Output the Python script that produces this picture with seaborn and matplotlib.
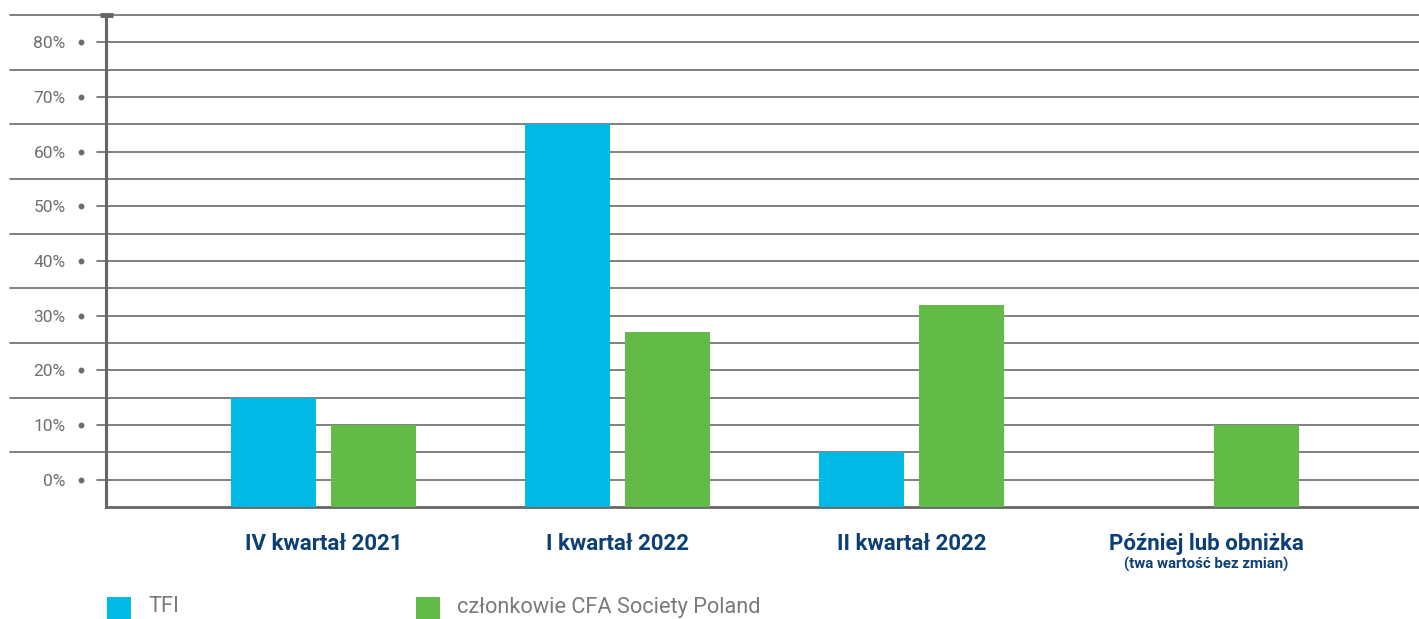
import matplotlib
matplotlib.use("Agg")
import matplotlib.pyplot as plt
import matplotlib.transforms as mtransforms
from matplotlib.patches import Rectangle
import seaborn as sns
import pandas as pd

# ---- data ----
categories = ["IV kwartał 2021", "I kwartał 2022", "II kwartał 2022", "Później lub obniżka"]
category_note = "(twa wartość bez zmian)"
series_names = ["TFI", "członkowie CFA Society Poland"]
tfi_values = [20, 70, 10, 0]
cfa_values = [15, 32, 37, 15]
tick_values = [5, 15, 25, 35, 45, 55, 65, 75, 85]
tick_labels = ["0%", "10%", "20%", "30%", "40%", "50%", "60%", "70%", "80%"]
half_lines = [10, 20, 30, 40, 50, 60, 70, 80, 90]

colors = ["#00B9E4", "#62BB46"]
grid_col = "#6b6b6b"
text_gray = "#6d6e70"
navy = "#0c3f74"

df = pd.DataFrame({
    "category": categories * 2,
    "series": [series_names[0]] * 4 + [series_names[1]] * 4,
    "value": tfi_values + cfa_values,
})

sns.set_theme(style="white")
plt.rcParams["font.family"] = ["Roboto", "DejaVu Sans"]

W, H = 1419, 619
fig = plt.figure(figsize=(W / 100, H / 100), dpi=100)
ax = fig.add_axes([106 / W, 112 / H, (W - 106) / W, (507 - 15) / H])

sns.barplot(data=df, x="category", y="value", hue="series", palette=colors,
            width=0.68, gap=0.15, saturation=1, legend=False, ax=ax, zorder=3,
            linewidth=0, edgecolor="none")

ax.set_ylim(0, 90)
ax.set_xlim(-0.74, 3.724)
ax.set_xlabel("")
ax.set_ylabel("")

# grid lines
for v in half_lines:
    ax.axhline(v, xmin=-0.0731, xmax=1, color=grid_col, lw=1.2, clip_on=False, zorder=1)
for v in tick_values:
    ax.axhline(v, xmin=-0.00685, xmax=1, color=grid_col, lw=1.2, clip_on=False, zorder=1)

# tick dots
tr = mtransforms.blended_transform_factory(ax.transAxes, ax.transData)
ax.plot([(81 - 106) / (W - 106)] * len(tick_values), tick_values, "o", ms=3.2,
        color=grid_col, transform=tr, clip_on=False)

ax.set_yticks(tick_values)
ax.set_yticklabels(tick_labels)
ax.tick_params(axis="y", length=0, pad=29, labelsize=12.5, labelcolor=text_gray)
ax.tick_params(axis="x", length=0, pad=19)
ax.set_xticks(range(len(categories)))
ax.set_xticklabels(categories, fontsize=16, fontweight="bold", color=navy)

# spines
for s in ["top", "right"]:
    ax.spines[s].set_visible(False)
ax.spines["left"].set_color("#666666")
ax.spines["left"].set_linewidth(2.2)
ax.spines["bottom"].set_color("#666666")
ax.spines["bottom"].set_linewidth(2.0)
# cap on top of y axis
ax.plot([(100 - 106) / (W - 106), (113 - 106) / (W - 106)], [90, 90], color="#666666",
        lw=3.5, transform=tr, clip_on=False, solid_capstyle="butt")

# subtitle under last category
trx = mtransforms.blended_transform_factory(ax.transData, fig.transFigure)
ax.text(3, 1 - 564 / H, category_note, transform=trx, ha="center", va="center",
        fontsize=10.8, fontweight="bold", color=navy)

# legend
legend_x = [107, 416]
for x0, c, name in zip(legend_x, colors, series_names):
    fig.add_artist(Rectangle((x0 / W, 1 - 620 / H), 24 / W, 23 / H,
                             transform=fig.transFigure, color=c, lw=0))
    fig.text((x0 + 41) / W, 1 - 607 / H, name, ha="left", va="center",
             fontsize=15.7, color="#7a7a7a")

fig.savefig("out.png", dpi=100)
